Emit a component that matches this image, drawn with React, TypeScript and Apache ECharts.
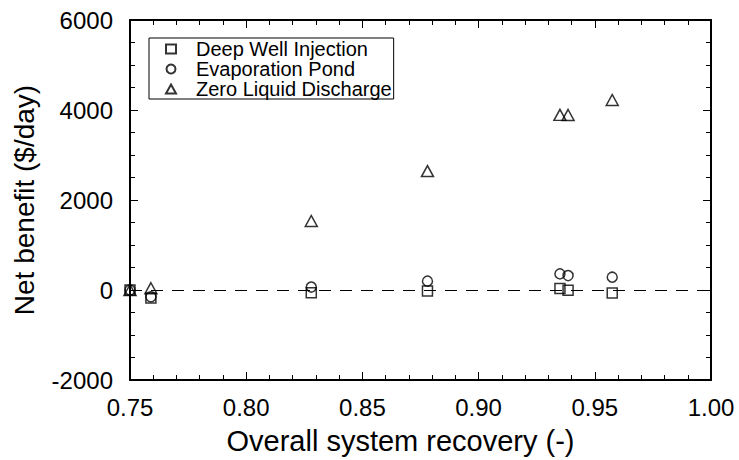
import React, { useEffect, useRef } from "react";
import * as echarts from "echarts";

const seriesNames = ["Deep Well Injection", "Evaporation Pond", "Zero Liquid Discharge"];
const recovery = [0.75, 0.759, 0.828, 0.878, 0.935, 0.9385, 0.9575];
const deepWell = [0, -180, -60, -20, 35, -5, -68];
const evapPond = [0, -150, 65, 197, 358, 320, 285];
const zld = [0, 40, 1533, 2643, 3891, 3890, 4222];
const xTickLabels = ["0.75", "0.80", "0.85", "0.90", "0.95", "1.00"];
const yTickLabels = ["-2000", "0", "2000", "4000", "6000"];

const FONT = "'Liberation Sans', Arial, Helvetica, sans-serif";

export default function App() {
  const ref = useRef<HTMLDivElement>(null);
  useEffect(() => {
    if (!ref.current) return;
    const chart = echarts.init(ref.current, undefined, { renderer: "svg" });
    const mk = (name: string, vals: number[], symbol: string, size: any) => ({
      name,
      type: "scatter",
      symbol,
      symbolSize: size,
      data: recovery.map((x, i) => [x, vals[i]]),
      itemStyle: { color: "rgba(0,0,0,0)", borderColor: "#000", borderWidth: 1.5 },
      emphasis: { disabled: true },
      z: 3,
    });
    const axisCommon = {
      axisLine: { show: true, onZero: false, lineStyle: { color: "#000", width: 2 } },
      axisTick: { show: true, inside: true, length: 8, lineStyle: { color: "#000", width: 1 } },
      minorTick: { show: true, length: 5, lineStyle: { color: "#000", width: 1 } },
      splitLine: { show: false },
    };
    const xMin = parseFloat(xTickLabels[0]);
    const xMax = parseFloat(xTickLabels[xTickLabels.length - 1]);
    const yMin = parseFloat(yTickLabels[0]);
    const yMax = parseFloat(yTickLabels[yTickLabels.length - 1]);
    const option: any = {
      animation: false,
      textStyle: { fontFamily: FONT, color: "#000" },
      grid: { left: 130, right: 28, top: 20, bottom: 77, containLabel: false },
      legend: {
        data: seriesNames,
        orient: "vertical",
        left: 149,
        top: 38,
        itemWidth: 10,
        itemHeight: 9,
        itemGap: 0,
        padding: [1, 2, 0, 16],
        borderColor: "#000",
        borderWidth: 1,
        backgroundColor: "#fff",
        textStyle: { fontSize: 20, fontFamily: FONT, color: "#000", padding: [0, 0, 0, 15] },
      },
      xAxis: [
        {
          ...axisCommon,
          type: "value",
          position: "bottom",
          min: xMin,
          max: xMax,
          interval: 0.05,
          minorTick: { ...axisCommon.minorTick, splitNumber: 5 },
          axisLabel: {
            fontSize: 24,
            fontFamily: FONT,
            color: "#000",
            margin: 15,
            formatter: (v: number) => xTickLabels.find((t) => Math.abs(parseFloat(t) - v) < 1e-6) ?? "",
          },
          name: "Overall system recovery (-)",
          nameLocation: "middle",
          nameGap: 46,
          nameTextStyle: { fontSize: 29, fontFamily: FONT, color: "#000", padding: [0, 40, 0, 0] },
        },
        {
          ...axisCommon,
          type: "value",
          position: "top",
          min: xMin,
          max: xMax,
          interval: 0.05,
          minorTick: { ...axisCommon.minorTick, splitNumber: 5 },
          axisLabel: { show: false },
        },
      ],
      yAxis: [
        {
          ...axisCommon,
          type: "value",
          position: "left",
          min: yMin,
          max: yMax,
          interval: 2000,
          minorTick: { ...axisCommon.minorTick, splitNumber: 4 },
          axisLabel: {
            fontSize: 24,
            fontFamily: FONT,
            color: "#000",
            margin: 17,
            formatter: (v: number) => yTickLabels.find((t) => Math.abs(parseFloat(t) - v) < 1e-6) ?? "",
          },
          name: "Net benefit ($/day)",
          nameLocation: "middle",
          nameGap: 92,
          nameTextStyle: { fontSize: 28, fontFamily: FONT, color: "#000" },
        },
        {
          ...axisCommon,
          type: "value",
          position: "right",
          min: yMin,
          max: yMax,
          interval: 2000,
          minorTick: { ...axisCommon.minorTick, splitNumber: 4 },
          axisLabel: { show: false },
        },
      ],
      series: [
        {
          ...mk(seriesNames[0], deepWell, "rect", 10),
          markLine: {
            silent: true,
            symbol: "none",
            label: { show: false },
            lineStyle: { color: "#000", width: 1.2, type: [12, 9] },
            data: [{ yAxis: 0 }],
          },
        },
        mk(seriesNames[1], evapPond, "circle", 10),
        mk(seriesNames[2], zld, "triangle", [12, 11]),
      ],
    };
    chart.setOption(option);
    return () => chart.dispose();
  }, []);
  return (
    <div
      ref={ref}
      style={{ position: "fixed", left: 0, top: 0, width: 739, height: 460, background: "#fff" }}
    />
  );
}
